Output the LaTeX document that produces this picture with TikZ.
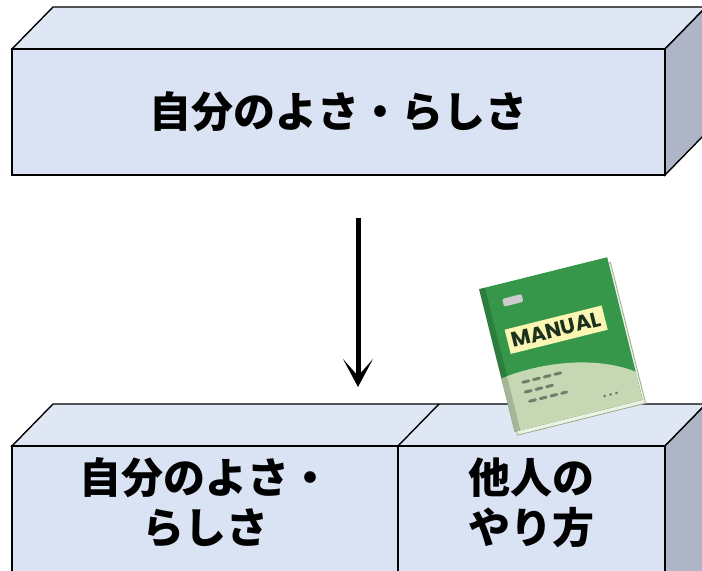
\documentclass[tikz,border=0pt]{standalone}
\usepackage{fontspec}
\newfontfamily\jpfont{Noto Sans CJK JP}
\newfontfamily\manualfont{Poppins}
\usetikzlibrary{arrows.meta}

\definecolor{frontblue}{RGB}{218,227,243}
\definecolor{topblue}{RGB}{224,231,244}
\definecolor{sidegray}{RGB}{173,181,198}
\definecolor{covergreen}{RGB}{54,150,74}
\definecolor{palegreen}{RGB}{198,215,180}
\definecolor{labelyellow}{RGB}{252,246,180}
\definecolor{labelink}{RGB}{28,48,30}
\definecolor{dashgray}{RGB}{110,128,108}
\definecolor{pagewhite}{RGB}{236,242,228}
\definecolor{pageedge}{RGB}{150,170,140}

\begin{document}
\begin{tikzpicture}[x=1bp, y=1bp,
    face/.style={draw=black, line width=1.4bp, line join=miter},
    front/.style={face, fill=frontblue},
    lid/.style={face, fill=topblue},
    side/.style={face, fill=sidegray},
    caption/.style={font=\jpfont\bfseries\fontsize{42bp}{50bp}\selectfont,
      align=center},
    arrow/.style={-{Stealth[length=28bp, width=30bp, inset=17bp]},
      line width=5bp},
    dashrow/.style={draw=dashgray, line width=3bp, line cap=round,
      dash pattern=on 6bp off 5bp}
  ]
    \clip (0,0) rectangle (702,571);

    % upper box
    \path[lid] (12,522) -- (53,564) -- (706,564) -- (665,522) -- cycle;
    \path[side] (665,522) -- (706,564) -- (706,438) -- (665,396) -- cycle;
    \path[front] (12,396) rectangle (665,522);
    \node[caption] (upper) at (338.5,459) {自分のよさ・らしさ};

    % lower boxes, cut off by the page edge
    \path[lid] (12,125) -- (53,167) -- (706,167) -- (665,125) -- cycle;
    \draw[face] (398,125) -- (439,167);
    \path[side] (665,125) -- (706,167) -- (706,-20) -- (665,-20) -- cycle;
    \path[front] (12,-20) rectangle (398,125);
    \path[front] (398,-20) rectangle (665,125);
    \node[caption] (own) at (205,68) {自分のよさ・\\らしさ};
    \node[caption] (others) at (531.5,68) {他人の\\やり方};

    \coordinate (from) at (358,353);
    \coordinate (to) at (358,184);
    \draw[arrow] (from) -- (to);

    % manual lying on the lower box
    \begin{scope}[shift={(561,226)}, rotate=14]
      \filldraw[draw=pageedge, fill=pagewhite, line width=0.8bp]
        (-64,-77) rectangle (68,68);
      \fill[covergreen] (-66,-73) rectangle (66,74);
      \fill[palegreen] (-66,-73) -- (-66,-18)
        .. controls (-25,-12) and (30,-18) .. (66,-44) -- (66,-73) -- cycle;
      \fill[black, opacity=0.16] (-66,-73) rectangle (-60,74);
      \fill[rounded corners=1.5bp, fill=gray!40] (-46,51) rectangle (-26,59);
      \node[fill=labelyellow, minimum width=100bp, minimum height=25bp,
        inner sep=0pt, transform shape, text=labelink,
        font=\manualfont\bfseries\fontsize{21bp}{21bp}\selectfont]
        (manual) at (-1,16) {MANUAL};
      \draw[dashrow] (-46,-27) -- (-2,-27);
      \draw[dashrow] (-46,-37) -- (-16,-37);
      \draw[dashrow] (-44,-47) -- (-6,-47);
      \draw[dashrow, dash pattern=on 0.1bp off 6bp] (30,-60) -- (45,-60);
    \end{scope}
  \end{tikzpicture}
\end{document}
